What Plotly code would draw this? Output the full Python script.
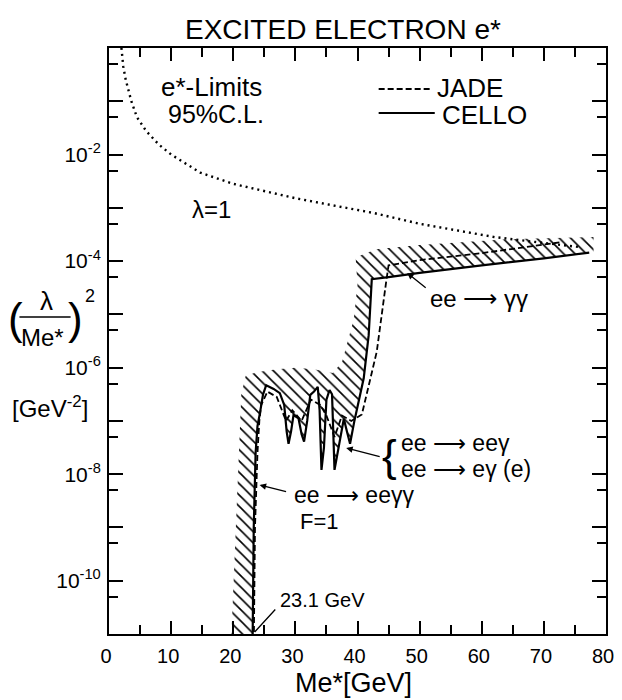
import numpy as np
import plotly.graph_objects as go

# ---------------- data ----------------
# lambda = 1 curve (dotted)
lam_mass = [2.0, 2.3, 2.7, 3.1, 3.6, 4.5, 6.0, 8.0, 10.0, 14.7, 20.0, 30.0, 42.7, 50.0, 62.1, 70.0, 76.0]
lam_log = [0.0, -0.35, -0.6, -0.8, -1.0, -1.3, -1.56, -1.81, -2.0, -2.34, -2.55, -2.82, -3.10, -3.3, -3.55, -3.66, -3.74]

# CELLO limit (solid)
cello_mass = [23.1, 23.3, 23.6, 23.9, 24.3, 24.8, 25.3, 26.5, 27.5, 28.2, 28.6, 28.9, 29.3, 29.7,
              30.5, 31.0, 31.4, 31.9, 32.4, 33.0, 33.6, 33.9, 34.2, 34.6, 35.0, 35.5, 35.9, 36.3,
              36.8, 37.8, 38.3, 38.8, 39.5, 40.2, 41.0, 41.8, 42.3, 45.0, 50.0, 60.0, 70.0, 77.3]
cello_log = [-11.3, -9.0, -7.6, -7.1, -6.85, -6.5, -6.33, -6.4, -6.48, -6.7, -7.2, -7.43, -7.2, -6.89,
             -6.95, -7.25, -7.39, -7.0, -6.51, -6.45, -6.36, -6.8, -7.92, -7.5, -6.6, -6.42, -6.5, -7.92,
             -7.6, -6.96, -7.2, -7.43, -7.0, -6.64, -6.2, -5.39, -4.34, -4.30, -4.22, -4.08, -3.95, -3.84]

# JADE limit (dashed)
jade_mass = [23.3, 23.5, 23.9, 24.2, 24.5, 25.5, 27.0, 28.5, 29.5, 31.0, 32.5, 34.0, 35.0, 36.3,
             37.5, 39.0, 40.7, 43.1, 44.6, 45.0, 50.0, 60.0, 72.5]
jade_log = [-11.3, -9.0, -7.6, -7.0, -6.7, -6.45, -6.55, -7.0, -6.8, -7.0, -6.6, -6.7, -6.9, -7.3,
            -6.9, -7.0, -6.88, -5.7, -4.4, -4.08, -3.98, -3.85, -3.65]

# outer edge of the hatched (excluded) band
band_mass = [19.6, 20.4, 21.3, 22.0, 24.0, 27.0, 30.0, 33.0, 36.0, 37.5, 39.4, 40.0, 39.7, 43.0,
             50.0, 64.0, 74.6, 78.0, 78.0]
band_log = [-11.3, -9.0, -6.5, -6.15, -6.08, -6.03, -6.0, -6.03, -6.1, -5.9, -5.09, -4.45, -3.93, -3.78,
            -3.70, -3.59, -3.55, -3.55, -3.84]

x_ticks = [0, 10, 20, 30, 40, 50, 60, 70, 80]
y_exponents = [-11, -10, -9, -8, -7, -6, -5, -4, -3, -2, -1, 0]
y_labeled = [-10, -8, -6, -4, -2]

# ---------------- layout geometry ----------------
W, H = 622, 700
L, R, T, B = 109, 8, 48, 66
PW, PH = W - L - R, H - T - B
FONT = "Liberation Sans, Arial, Helvetica, sans-serif"


def px(x):
    return (x - L) / PW


def py(y):
    return (H - B - y) / PH


def pw(v):
    return [10.0 ** e for e in v]


fig = go.Figure()

# hatched band: outer edge followed by the CELLO curve reversed
poly_x = list(band_mass) + list(reversed(cello_mass))
poly_y = pw(band_log) + list(reversed(pw(cello_log)))
fig.add_trace(go.Scatter(
    x=poly_x, y=poly_y, mode="lines", fill="toself",
    line=dict(width=0, color="rgba(0,0,0,0)"),
    fillcolor="rgba(0,0,0,0)",
    fillpattern=dict(shape="\\", size=8, solidity=0.2, fgcolor="black",
                     bgcolor="rgba(0,0,0,0)", fillmode="replace"),
    hoverinfo="skip", showlegend=False))

fig.add_trace(go.Scatter(x=lam_mass, y=pw(lam_log), mode="lines",
                         line=dict(color="black", width=2.4, dash="2px,4px"),
                         showlegend=False))
fig.add_trace(go.Scatter(x=jade_mass, y=pw(jade_log), mode="lines",
                         line=dict(color="black", width=1.8, dash="6px,3px"),
                         showlegend=False))
fig.add_trace(go.Scatter(x=cello_mass, y=pw(cello_log), mode="lines",
                         line=dict(color="black", width=2.2),
                         showlegend=False))

ann = []


def text(t, x, y, size, xanchor="center", yanchor="middle"):
    ann.append(dict(text=t, x=px(x), y=py(y), xref="paper", yref="paper",
                    xanchor=xanchor, yanchor=yanchor, showarrow=False,
                    font=dict(size=size, color="black", family=FONT)))


def arrow(hx, hy, tx, ty, head=2):
    ann.append(dict(text="", x=px(hx), y=py(hy), xref="paper", yref="paper",
                    ax=tx - hx, ay=ty - hy, showarrow=True, arrowhead=head,
                    arrowsize=1, arrowwidth=1.3, arrowcolor="black"))


text("EXCITED ELECTRON e*", 347, 29, 28)
text("e*-Limits", 213, 87, 26)
text("95%C.L.", 218, 114, 25)
text("JADE", 440, 88, 26, xanchor="left")
text("CELLO", 445, 115, 26, xanchor="left")
text("λ=1", 213, 209, 24)
text("ee ⟶ γγ", 433, 298, 24, xanchor="left")
arrow(412, 273, 432, 289)
text("{", 394, 455, 44)
text("ee ⟶ eeγ", 404, 443, 23, xanchor="left")
text("ee ⟶ eγ (e)", 404, 469, 23, xanchor="left")
arrow(350, 448, 385, 457)
text("ee ⟶ eeγγ", 295, 495, 23, xanchor="left")
text("F=1", 323, 521, 22)
arrow(262, 485, 290, 492)
text("23.1 GeV", 281, 600, 20, xanchor="left")
arrow(257, 632, 279, 608, head=0)

# y axis title pieces
text("(", 14, 318, 44)
text("λ", 45, 301, 26)
text("Me*", 41, 337, 24)
text(")", 75, 318, 44)
text("2", 90, 296, 18)
text("[GeV<sup>-2</sup>]", 49, 407, 24)
# x axis title
text("Me*[GeV]", 357, 683, 27)

shapes = [
    dict(type="line", xref="paper", yref="paper", x0=px(18), x1=px(70), y0=py(317), y1=py(317),
         line=dict(color="black", width=1.5)),
    dict(type="line", xref="paper", yref="paper", x0=px(383), x1=px(436), y0=py(89), y1=py(89),
         line=dict(color="black", width=1.8, dash="6px,3px")),
    dict(type="line", xref="paper", yref="paper", x0=px(383), x1=px(440), y0=py(113), y1=py(113),
         line=dict(color="black", width=2)),
]

y_tickvals = [10.0 ** e for e in y_exponents]
y_ticktext = [("10<sup>%d</sup>" % e) if e in y_labeled else "" for e in y_exponents]
y_minor = [5 * 10.0 ** e for e in y_exponents[:-1]]

fig.update_layout(
    width=W, height=H,
    margin=dict(l=L, r=R, t=T, b=B),
    paper_bgcolor="white", plot_bgcolor="white",
    font=dict(family=FONT, color="black"),
    annotations=ann, shapes=shapes, showlegend=False,
    xaxis=dict(range=[0, 80], tickvals=x_ticks, ticks="inside", ticklen=13, tickwidth=1.8,
               tickcolor="black", showline=True, linecolor="black", linewidth=2, mirror="ticks",
               showgrid=False, zeroline=False, tickfont=dict(size=20, family=FONT),
               ticklabelstandoff=3, ticklabelshift=-3, ticklabeloverflow="allow",
               minor=dict(tickvals=[5, 15, 25, 35, 45, 55, 65, 75], ticks="inside",
                          ticklen=9, tickwidth=1.5, tickcolor="black", showgrid=False)),
    yaxis=dict(type="log", range=[-11, 0], tickvals=y_tickvals, ticktext=y_ticktext,
               ticks="inside", ticklen=14, tickwidth=1.8, tickcolor="black",
               showline=True, linecolor="black", linewidth=2, mirror="ticks",
               showgrid=False, zeroline=False, tickfont=dict(size=21, family=FONT),
               ticklabelstandoff=2,
               minor=dict(tickvals=y_minor, ticks="inside", ticklen=9, tickwidth=1.5,
                          tickcolor="black", showgrid=False)),
)

fig.write_html("out.html")
